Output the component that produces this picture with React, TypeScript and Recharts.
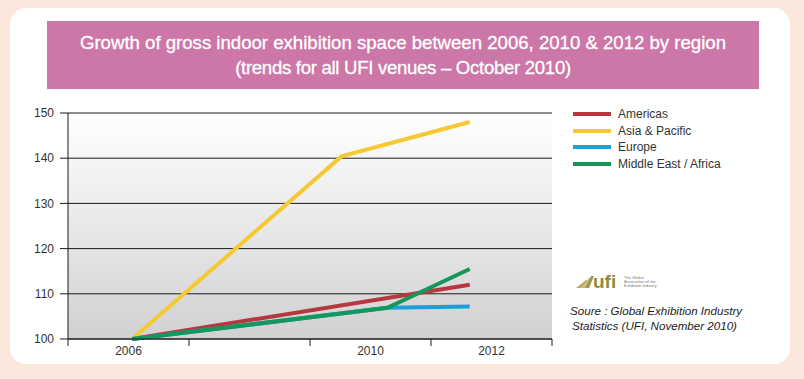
import { LineChart, Line, XAxis, YAxis, CartesianGrid } from "recharts";

// x positions on a 0..4 axis (4 equal bands)
const xPos = [0.53, 2.26, 2.64, 3.32];
const americas = [100, null, null, 112];
const asiaPacific = [100, 140.4, null, 148];
const europe = [100, null, 106.9, 107.2];
const middleEastAfrica = [100, null, 106.9, 115.5];

const yTicks = [100, 110, 120, 130, 140, 150];
const bandTicks = [0, 1, 2, 3, 4];
const yearLabels = ["2006", "2010", "2012"];
const yearLabelPos = [0.5, 2.5, 3.5];

const seriesNames = ["Americas", "Asia & Pacific", "Europe", "Middle East / Africa"];
const seriesColors = ["#B7373F", "#F8C832", "#1BA0DA", "#16965A"];

const data = xPos.map((x, i) => ({
  x,
  americas: americas[i],
  asiaPacific: asiaPacific[i],
  europe: europe[i],
  middleEastAfrica: middleEastAfrica[i],
}));

const seriesKeys = ["americas", "asiaPacific", "europe", "middleEastAfrica"];

const font = "'Liberation Sans', Arial, sans-serif";

const App = () => {
  return (
    <div
      style={{
        position: "absolute",
        left: 0,
        top: 0,
        width: 804,
        height: 379,
        background: "#FBE7DC",
        overflow: "hidden",
        fontFamily: font,
      }}
    >
      {/* white card */}
      <div
        style={{
          position: "absolute",
          left: 10,
          top: 8,
          width: 780,
          height: 356,
          borderRadius: 16,
          background: "#fff",
        }}
      />
      {/* title box */}
      <div
        style={{
          position: "absolute",
          left: 47,
          top: 21,
          width: 712,
          height: 68,
          background: "#CC77A8",
          color: "#fff",
          fontSize: 18.6,
          lineHeight: "25px",
          textAlign: "center",
          display: "flex",
          flexDirection: "column",
          justifyContent: "center",
          WebkitTextStroke: "0.3px #fff",
        }}
      >
        <div>Growth of gross indoor exhibition space between 2006, 2010 &amp; 2012 by region</div>
        <div style={{ letterSpacing: -0.3 }}>(trends for all UFI venues – October 2010)</div>
      </div>

      <div style={{ position: "absolute", left: 0, top: 0 }}>
        <LineChart
          width={804}
          height={379}
          data={data}
          margin={{ top: 113, right: 252, left: 0, bottom: 20 }}
        >
          <defs>
            <linearGradient id="plotBg" x1="0" y1="0" x2="0" y2="1">
              <stop offset="0%" stopColor="#FFFFFF" />
              <stop offset="100%" stopColor="#D1D1D3" />
            </linearGradient>
          </defs>
          <CartesianGrid
            vertical={false}
            stroke="#1a1a1a"
            strokeWidth={1}
            fill="url(#plotBg)"
            fillOpacity={1}
            xAxisId="grid"
          />
          <XAxis
            xAxisId="grid"
            dataKey="x"
            type="number"
            domain={[0, 4]}
            ticks={bandTicks}
            interval={0}
            tickFormatter={() => ""}
            tickLine={{ stroke: "#1a1a1a" }}
            tickSize={7}
            height={7}
            stroke="#1a1a1a"
            allowDataOverflow
          />
          <XAxis
            xAxisId="lbl"
            dataKey="x"
            type="number"
            domain={[0, 4]}
            ticks={yearLabelPos}
            interval={0}
            tickFormatter={(v: number) => yearLabels[yearLabelPos.indexOf(v)]}
            axisLine={false}
            tickLine={false}
            tickSize={0}
            tickMargin={0}
            height={13}
            tick={{ fontSize: 12, fill: "#333" }}
          />
          <YAxis
            type="number"
            domain={[100, 150]}
            ticks={yTicks}
            width={68}
            tickSize={8}
            tickMargin={6}
            stroke="#1a1a1a"
            tick={{ fontSize: 12, fill: "#333" }}
          />
          {seriesKeys.map((k, i) => (
            <Line
              key={k}
              xAxisId="grid"
              dataKey={k}
              name={seriesNames[i]}
              type="linear"
              stroke={seriesColors[i]}
              strokeWidth={4}
              dot={false}
              connectNulls
              isAnimationActive={false}
            />
          ))}
        </LineChart>
      </div>

      {/* legend */}
      {seriesNames.map((n, i) => (
        <div
          key={n}
          style={{
            position: "absolute",
            left: 573,
            top: 106 + i * 16.7,
            height: 16,
            display: "flex",
            alignItems: "center",
            fontSize: 12,
            color: "#333",
          }}
        >
          <div style={{ width: 38, height: 4, background: seriesColors[i], marginRight: 7 }} />
          {n}
        </div>
      ))}

      {/* UFI logo */}
      <svg
        style={{ position: "absolute", left: 574, top: 268 }}
        width={90}
        height={24}
        viewBox="0 0 90 24"
      >
        <path d="M2 20 L12 12 L18 12 L8 20 Z" fill="#B7B067" />
        <path d="M7 20 L15 10 L19 10 L11 20 Z" fill="#C9C283" />
        <path d="M11 20 L17 8 L20 8 L15 20 Z" fill="#9F9A4F" />
        <text x={19} y={20} fontSize={19} fontWeight={700} fill="#8E8C3A" fontFamily={font}>
          ufi
        </text>
        <text x={50} y={11} fontSize={4} fill="#777" fontFamily={font}>
          The Global
        </text>
        <text x={50} y={15} fontSize={4} fill="#777" fontFamily={font}>
          Association of the
        </text>
        <text x={50} y={19} fontSize={4} fill="#777" fontFamily={font}>
          Exhibition Industry
        </text>
      </svg>

      {/* source */}
      <div
        style={{
          position: "absolute",
          left: 570,
          top: 303,
          fontSize: 11.6,
          fontStyle: "italic",
          color: "#222",
          lineHeight: "15px",
        }}
      >
        <div>Soure : Global Exhibition Industry</div>
        <div style={{ paddingLeft: 2 }}>Statistics (UFI, November 2010)</div>
      </div>
    </div>
  );
};

export default App;
